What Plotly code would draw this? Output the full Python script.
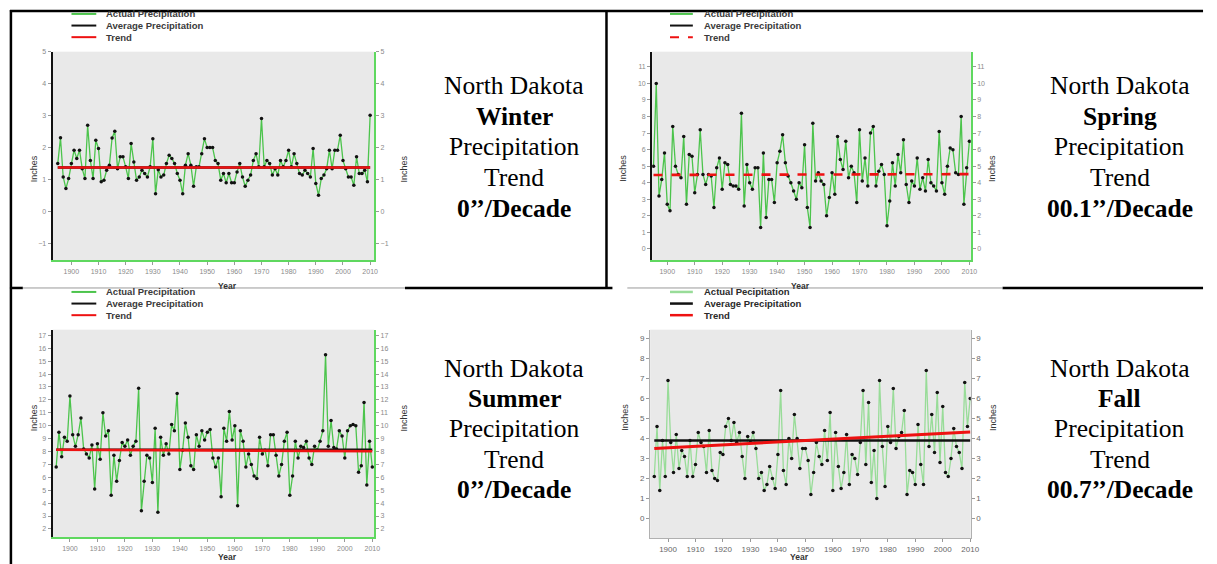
import plotly.graph_objects as go

W, H = 1217, 564

years = list(range(1895, 2011))

winter_vals = [1.50, 2.31, 1.08, 0.72, 1.03, 1.50, 1.92, 1.66, 1.92, 1.34,
               1.03, 2.70, 1.60, 1.03, 2.23, 1.97, 0.93, 0.98, 1.29, 1.45,
               2.30, 2.51, 1.34, 1.71, 1.71, 1.40, 1.03, 2.13, 1.55, 0.98,
               1.08, 1.29, 1.19, 1.08, 1.40, 2.28, 0.56, 1.31, 1.08, 1.14,
               1.50, 1.76, 1.66, 1.50, 1.19, 0.98, 0.56, 1.45, 1.81, 1.45,
               0.79, 1.40, 1.40, 1.81, 2.28, 2.00, 2.00, 2.00, 1.60, 1.50,
               0.98, 1.19, 0.90, 1.19, 0.90, 0.90, 1.24, 1.50, 1.08, 0.79,
               0.98, 1.14, 1.60, 1.81, 1.40, 2.91, 1.40, 1.60, 1.50, 1.14,
               1.34, 1.14, 1.60, 1.40, 1.60, 1.92, 1.40, 1.81, 1.50, 1.19,
               1.14, 1.29, 1.19, 1.08, 1.97, 0.88, 0.51, 1.03, 1.14, 1.34,
               1.92, 1.34, 1.92, 1.92, 2.39, 1.60, 1.34, 1.08, 1.08, 0.82,
               1.71, 1.19, 1.19, 1.29, 0.93, 3.01]

spring_vals = [5.0, 10.0, 3.2, 4.2, 5.8, 2.7, 2.3, 7.4, 5.0, 4.5,
               4.3, 6.8, 2.7, 5.7, 5.6, 3.4, 4.5, 7.2, 4.5, 3.9,
               4.5, 4.4, 2.5, 4.9, 5.5, 3.6, 5.2, 5.1, 3.9, 3.8,
               3.8, 3.6, 8.2, 2.6, 5.1, 4.0, 3.6, 4.9, 4.9, 1.3,
               5.8, 1.9, 4.2, 4.2, 2.8, 5.2, 5.9, 6.9, 5.2, 4.4,
               4.0, 3.5, 3.0, 4.0, 3.7, 6.3, 2.5, 1.3, 7.6, 4.1,
               4.6, 4.1, 3.9, 2.0, 3.1, 4.6, 3.3, 6.8, 5.4, 4.8,
               6.5, 4.3, 5.0, 4.6, 2.8, 7.2, 4.1, 5.5, 3.8, 7.0,
               7.4, 3.8, 4.7, 5.1, 4.5, 1.4, 2.9, 5.2, 3.8, 5.7,
               4.6, 6.6, 3.9, 2.8, 4.1, 3.8, 5.5, 3.6, 4.3, 3.5,
               5.4, 4.0, 3.8, 3.5, 7.1, 4.0, 3.3, 5.0, 6.1, 6.0,
               4.6, 4.5, 8.0, 2.7, 4.9, 6.5]

summer_vals = [6.8, 9.5, 7.6, 9.1, 8.8, 12.3, 9.3, 8.4, 9.3, 10.6,
               8.2, 7.8, 7.5, 8.5, 5.1, 8.6, 7.4, 11.0, 9.2, 9.6,
               4.6, 7.7, 5.7, 7.3, 8.7, 8.4, 8.9, 7.7, 8.4, 8.8,
               12.9, 3.4, 5.7, 7.7, 7.5, 5.6, 9.8, 3.3, 9.1, 7.7,
               8.6, 7.8, 10.1, 9.6, 12.5, 6.6, 8.1, 10.2, 9.1, 6.9,
               6.6, 9.3, 8.4, 9.6, 8.9, 9.5, 9.7, 7.5, 6.8, 7.5,
               4.5, 9.8, 8.8, 11.1, 8.9, 10.0, 3.8, 9.6, 8.8, 6.8,
               7.8, 7.0, 6.1, 5.9, 9.1, 7.8, 8.1, 6.9, 9.3, 9.3,
               7.7, 6.1, 7.0, 8.8, 9.5, 4.6, 6.1, 8.8, 7.5, 8.4,
               8.3, 8.8, 7.5, 7.0, 8.4, 8.1, 8.8, 9.6, 15.5, 8.4,
               10.4, 8.3, 8.2, 9.6, 9.2, 7.5, 9.6, 10.0, 10.1, 10.0,
               6.4, 6.9, 11.8, 5.4, 8.8, 6.8]

fall_vals = [2.1, 4.6, 1.4, 3.9, 2.1, 6.9, 3.8, 2.3, 4.2, 2.5,
             3.4, 3.1, 2.1, 3.9, 2.1, 2.7, 4.3, 3.8, 3.6, 2.3,
             4.4, 2.4, 2.0, 1.9, 3.3, 3.2, 4.6, 5.0, 3.9, 4.8,
             3.8, 4.3, 3.1, 2.0, 4.1, 3.8, 4.3, 3.5, 2.0, 2.3,
             1.4, 1.7, 2.6, 2.0, 1.5, 3.2, 6.4, 2.4, 1.7, 4.0,
             3.0, 5.2, 4.0, 2.5, 3.5, 3.5, 2.9, 1.2, 2.3, 3.8,
             3.1, 2.7, 4.4, 2.9, 5.3, 1.4, 4.3, 2.6, 1.5, 2.3,
             4.2, 1.7, 3.2, 3.0, 2.2, 3.8, 6.4, 2.7, 5.8, 1.8,
             3.4, 1.0, 6.9, 3.6, 1.6, 4.6, 3.8, 6.5, 3.5, 4.1,
             4.3, 5.4, 1.2, 2.4, 2.3, 1.7, 4.7, 2.7, 1.7, 7.4,
             3.6, 5.2, 3.3, 6.3, 2.8, 5.6, 2.3, 2.1, 3.0, 4.5,
             3.6, 3.3, 2.5, 6.8, 4.6, 6.0]

winter_avg = [1.38, 1.38]
winter_trend = [1.38, 1.38]
spring_avg = None
spring_trend = [4.47, 4.52]
summer_avg = [8.13, 8.13]
summer_trend = [8.14, 8.02]
fall_avg = [3.9, 3.9]
fall_trend = [3.5, 4.33]

x_ticks = [1900, 1910, 1920, 1930, 1940, 1950, 1960, 1970, 1980, 1990, 2000, 2010]
winter_yticks = [-1, 0, 1, 2, 3, 4, 5]
spring_yticks = [0, 1, 2, 3, 4, 5, 6, 7, 8, 9, 10, 11]
summer_yticks = [2, 3, 4, 5, 6, 7, 8, 9, 10, 11, 12, 13, 14, 15, 16, 17]
fall_yticks = [0, 1, 2, 3, 4, 5, 6, 7, 8, 9]

seasons = ["Winter", "Spring", "Summer", "Fall"]
rates = ["0\u2019\u2019/Decade", "00.1\u2019\u2019/Decade", "0\u2019\u2019/Decade", "00.7\u2019\u2019/Decade"]
legend_names = [
    ["Actual Precipitation", "Average Precipitation", "Trend"],
    ["Actual Precipitation", "Average Precipitation", "Trend"],
    ["Actual Precipitation", "Average Precipitation", "Trend"],
    ["Actual Pecipitation", "Average Precipitation", "Trend"],
]

def PX(p):
    return p / W

def PY(p):
    return 1 - p / H

UP_GREEN = "#4cc44c"
AX_GREEN = "#5fd85f"
FALL_GREEN = "#98dc98"
RED = "#ee1111"
SANS = "Liberation Sans, Arial, sans-serif"
SERIF = "Liberation Serif, Times New Roman, serif"

panels = [
    dict(vals=winter_vals, avg=winter_avg, trend=winter_trend, yt=winter_yticks,
         box=(53, 48, 377, 258), xr=[1893.1, 2011.5], yr=[-1.52, 5.0], fall=False,
         leg=(72, 97, 105, 10), dash="solid",
         ttl=dict(left=(28, 150), right=(407, 150), year=(218, 277), yanchor="top"),
         text=(518, [82, 113, 144, 175, 206])),
    dict(vals=spring_vals, avg=spring_avg, trend=spring_trend, yt=spring_yticks,
         box=(657, 48, 978, 258), xr=[1894.5, 2010.5], yr=[-0.68, 11.92], fall=False,
         leg=(675, 698, 707, 10), dash="dash",
         ttl=dict(left=(628, 150), right=(1007, 150), year=(818, 277), yanchor="top"),
         text=(1128, [82, 113, 144, 175, 206])),
    dict(vals=summer_vals, avg=summer_avg, trend=summer_trend, yt=summer_yticks,
         box=(53, 328, 377, 537), xr=[1893.7, 2010.7], yr=[1.36, 17.44], fall=False,
         leg=(72, 97, 105, 290), dash="solid",
         ttl=dict(left=(28, 432), right=(407, 432), year=(218, 564), yanchor="bottom"),
         text=(518, [367, 397.5, 428, 458.5, 489])),
    dict(vals=fall_vals, avg=fall_avg, trend=fall_trend, yt=fall_yticks,
         box=(655, 328, 978, 538), xr=[1893.5, 2010.2], yr=[-0.98, 9.44], fall=True,
         leg=(675, 698, 707, 290), dash="solid",
         ttl=dict(left=(630, 432), right=(1008, 432), year=(817, 564), yanchor="bottom"),
         text=(1128, [367, 397.5, 428, 458.5, 489])),
]

fig = go.Figure()
layout = dict(
    width=W, height=H, margin=dict(l=0, r=0, t=0, b=0),
    paper_bgcolor="white", plot_bgcolor="#e9e9e9", showlegend=False,
)
shapes = []
annotations = []

for i, p in enumerate(panels):
    k = i + 1
    xs = "x" if k == 1 else f"x{k}"
    ys = "y" if k == 1 else f"y{k}"
    rs = f"y{k + 4}"
    xname = "xaxis" if k == 1 else f"xaxis{k}"
    yname = "yaxis" if k == 1 else f"yaxis{k}"
    rname = f"yaxis{k + 4}"
    x0, y0, x1, y1 = p["box"]
    fall = p["fall"]
    lcol = FALL_GREEN if fall else UP_GREEN

    # invisible carrier so the right-hand axis is drawn
    fig.add_trace(go.Scatter(
        x=years, y=p["vals"], xaxis=xs, yaxis=rs, mode="lines",
        line=dict(color="rgba(0,0,0,0)", width=0), opacity=0, hoverinfo="skip"))

    fig.add_trace(go.Scatter(
        x=years, y=p["vals"], xaxis=xs, yaxis=ys, mode="lines+markers",
        line=dict(color=lcol, width=1.3),
        marker=dict(color="#111111", size=3.5), hoverinfo="skip"))
    if p["avg"] is not None:
        fig.add_trace(go.Scatter(
            x=[years[0], years[-1]], y=p["avg"], xaxis=xs, yaxis=ys, mode="lines",
            line=dict(color="#111111", width=2.5), hoverinfo="skip"))
    fig.add_trace(go.Scatter(
        x=[years[0], years[-1]], y=p["trend"], xaxis=xs, yaxis=ys, mode="lines",
        line=dict(color=RED, width=3 if fall else 2.6, dash=p["dash"]), hoverinfo="skip"))

    tick_font = dict(family=SANS, size=8 if fall else 7, color="#666666" if fall else "#8a8a8a")
    left_col = "#b0b0b0" if fall else "#111111"
    other_col = "#b0b0b0" if fall else AX_GREEN
    lw = 1 if fall else 2
    layout[xname] = dict(
        domain=[PX(x0), PX(x1)], anchor=ys, range=p["xr"], tickvals=x_ticks,
        showgrid=False, zeroline=False, showline=True, linecolor=other_col, linewidth=lw,
        ticks="outside", ticklen=3, tickcolor="#999999", tickfont=tick_font)
    layout[yname] = dict(
        domain=[PY(y1), PY(y0)], anchor=xs, range=p["yr"], tickvals=p["yt"],
        showgrid=False, zeroline=False, showline=True, linecolor=left_col, linewidth=lw,
        ticks="outside", ticklen=3, tickcolor="#999999", tickfont=tick_font)
    layout[rname] = dict(
        overlaying=ys, side="right", anchor=xs, range=p["yr"], tickvals=p["yt"],
        showgrid=False, zeroline=False, showline=True, linecolor=other_col, linewidth=lw,
        ticks="outside", ticklen=3, tickcolor="#999999", tickfont=tick_font)

    # axis titles
    tf = dict(family=SANS, size=9, color="#333333")
    lx, ly = p["ttl"]["left"]
    rx, ry = p["ttl"]["right"]
    yx, yy = p["ttl"]["year"]
    annotations.append(dict(x=PX(lx), y=PY(ly), xref="paper", yref="paper", text="Inches",
                            textangle=-90, showarrow=False, font=tf))
    annotations.append(dict(x=PX(rx), y=PY(ry), xref="paper", yref="paper", text="Inches",
                            textangle=-90, showarrow=False, font=tf))
    annotations.append(dict(x=PX(yx), y=PY(yy), xref="paper", yref="paper", text="<b>Year</b>",
                            yanchor=p["ttl"]["yanchor"], showarrow=False,
                            font=dict(family=SANS, size=8.5, color="#333333")))

    # manual legend
    lx0, lx1, tx, ty = p["leg"]
    leg_cols = [FALL_GREEN if fall else UP_GREEN, "#111111", RED]
    leg_dash = ["solid", "solid", p["dash"]]
    for j in range(3):
        yrow = ty + j * 11.7
        shapes.append(dict(type="line", xref="paper", yref="paper",
                           x0=PX(lx0), x1=PX(lx1), y0=PY(yrow), y1=PY(yrow),
                           line=dict(color=leg_cols[j], width=2.5 if fall else 2, dash=leg_dash[j])))
        annotations.append(dict(x=PX(tx), y=PY(yrow), xref="paper", yref="paper",
                                xanchor="left", yanchor="middle", showarrow=False,
                                text=f"<b>{legend_names[i][j]}</b>",
                                font=dict(family=SANS, size=9.5, color="#2a2a2a" if fall else "#3a3a3a")))

    # cell text
    cx, ylines = p["text"]
    lines = ["North Dakota", f"<b>{seasons[i]}</b>", "Precipitation", "Trend", f"<b>{rates[i]}</b>"]
    for t, yl in zip(lines, ylines):
        annotations.append(dict(x=PX(cx), y=PY(yl), xref="paper", yref="paper",
                                xanchor="center", yanchor="middle", showarrow=False, text=t,
                                font=dict(family=SERIF, size=25.5, color="#000000")))

# table borders
def hline(xa, xb, yv, col="#000000", w=2.5):
    shapes.append(dict(type="line", xref="paper", yref="paper", x0=PX(xa), x1=PX(xb),
                       y0=PY(yv), y1=PY(yv), line=dict(color=col, width=w)))

def vline(xv, ya, yb, col="#000000", w=2.5):
    shapes.append(dict(type="line", xref="paper", yref="paper", x0=PX(xv), x1=PX(xv),
                       y0=PY(ya), y1=PY(yb), line=dict(color=col, width=w)))

hline(10, 1212, 7)
vline(11, 6, 564)
vline(611, 6, 287)
hline(10, 23, 286)
hline(408, 617, 286)
hline(1010, 1212, 286)
hline(23, 408, 286, col="#9a9a9a", w=1)
hline(632, 1010, 286, col="#9a9a9a", w=1)

layout["shapes"] = shapes
layout["annotations"] = annotations
fig.update_layout(**layout)
fig.write_html("out.html", config={"displayModeBar": False},
               post_script="document.body.style.margin='0';document.body.style.overflow='hidden';")
